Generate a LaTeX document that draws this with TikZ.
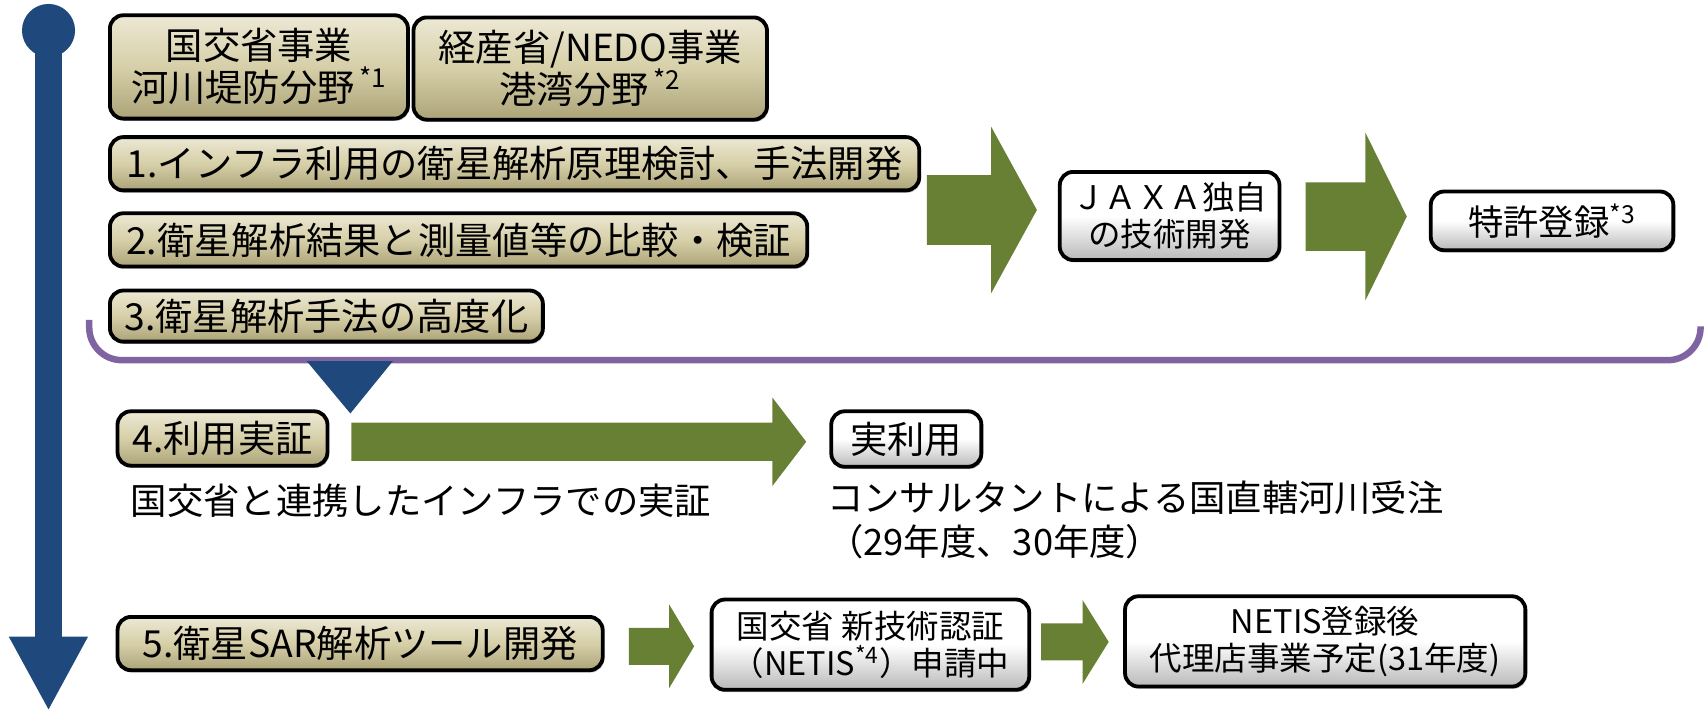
\documentclass[tikz,border=0pt]{standalone}
\usepackage{fontspec}
\setmainfont{Noto Sans CJK JP}
\usetikzlibrary{shadows}
\definecolor{tlblue}{RGB}{31,73,125}
\definecolor{arrgreen}{RGB}{104,128,52}
\definecolor{bracketpurple}{RGB}{128,100,162}
\definecolor{beigeL}{RGB}{236,232,212}
\definecolor{beigeM}{RGB}{214,207,168}
\definecolor{beigeD}{RGB}{172,163,120}
\newcommand{\blockarr}[6]{%
  \fill[arrgreen] (#1,{#4-#5}) -- (#2,{#4-#5}) -- (#2,{#4-#6}) -- (#3,#4)
    -- (#2,{#4+#6}) -- (#2,{#4+#5}) -- (#1,{#4+#5}) -- cycle;}
\tikzset{
  boxbase/.style={draw=black, line width=2pt, rounded corners=7pt, inner sep=0pt,
    align=center, drop shadow={opacity=0.45, shadow xshift=0.8pt, shadow yshift=-1.2pt}},
  beigebox/.style={boxbase, top color=beigeL, bottom color=beigeD, middle color=beigeM},
  whitebox/.style={boxbase, top color=white, bottom color=gray!55, middle color=white},
  bigtxt/.style={font=\fontsize{19.5}{22}\selectfont},
  midtxt/.style={font=\fontsize{17}{19.5}\selectfont},
  plaintxt/.style={font=\fontsize{19}{23}\selectfont, inner sep=0pt},
}
\begin{document}
\begin{tikzpicture}[x=0.02cm, y=-0.02cm]
\useasboundingbox (0,0) rectangle (1568,654);
% timeline
\fill[tlblue] (44.6,28) circle [radius=0.488cm];
\fill[tlblue] (32.3,28) rectangle (56.9,590);
\fill[tlblue] (8,585) -- (81,585) -- (44.6,652) -- cycle;
% bracket
\draw[bracketpurple, line width=3.4pt, rounded corners=0.6cm] (82,294) -- (82,331) -- (1563,331) -- (1563,300);
\fill[tlblue] (282,332) -- (361,332) -- (322,380) -- cycle;
% boxes
\node[beigebox, bigtxt, minimum width=5.48cm, minimum height=1.90cm] (b1) at (238,61.5)
  {国交省事業\\河川堤防分野\textsuperscript{\,*1}};
\node[beigebox, bigtxt, minimum width=6.50cm, minimum height=1.88cm] (b2) at (542.5,63)
  {経産省/NEDO事業\\港湾分野\textsuperscript{\,*2}};
\node[beigebox, bigtxt, minimum width=14.88cm, minimum height=0.98cm] (s1) at (473,150.5)
  {1.インフラ利用の衛星解析原理検討、手法開発};
\node[beigebox, bigtxt, minimum width=12.82cm, minimum height=0.98cm] (s2) at (421.5,220.5)
  {2.衛星解析結果と測量値等の比較・検証};
\node[beigebox, bigtxt, minimum width=7.96cm, minimum height=0.94cm] (s3) at (300,290.5)
  {3.衛星解析手法の高度化};
\node[whitebox, midtxt, minimum width=4.04cm, minimum height=1.62cm] (jaxa) at (1075,198.5)
  {ＪＡＸＡ独自\\の技術開発};
\node[whitebox, font=\fontsize{18.5}{21}\selectfont, minimum width=4.46cm, minimum height=1.08cm] (patent) at (1426.5,203)
  {特許登録\textsuperscript{*3}};
\node[beigebox, bigtxt, minimum width=3.86cm, minimum height=1.00cm] (s4) at (204.5,403)
  {4.利用実証};
\node[whitebox, bigtxt, minimum width=2.76cm, minimum height=1.02cm] (jitsu) at (833,403.5)
  {実利用};
\node[beigebox, bigtxt, minimum width=8.92cm, minimum height=0.98cm] (s5) at (331,591.5)
  {5.衛星SAR解析ツール開発};
\node[whitebox, midtxt, minimum width=5.84cm, minimum height=1.66cm] (netis) at (800,592.5)
  {国交省 新技術認証\\（NETIS\textsuperscript{*4}）申請中};
\node[whitebox, midtxt, minimum width=7.36cm, minimum height=1.66cm] (agency) at (1218,589.5)
  {NETIS登録後\\代理店事業予定(31年度)};
% plain texts
\node[plaintxt, anchor=west] (t4) at (120,460) {国交省と連携したインフラでの実証};
\node[plaintxt, anchor=west, align=left] (t5) at (760,478)
  {コンサルタントによる国直轄河川受注\\（29年度、30年度）};
% block arrows
\blockarr{852}{911}{953}{193}{32}{76.5}
\blockarr{1200}{1255}{1293}{199}{31.5}{77}
\blockarr{323}{710}{741}{406}{17.5}{40.5}
\blockarr{578}{615}{638}{594}{17}{38.5}
\blockarr{957}{995}{1019}{590}{17}{38.5}
\end{tikzpicture}
\end{document}
